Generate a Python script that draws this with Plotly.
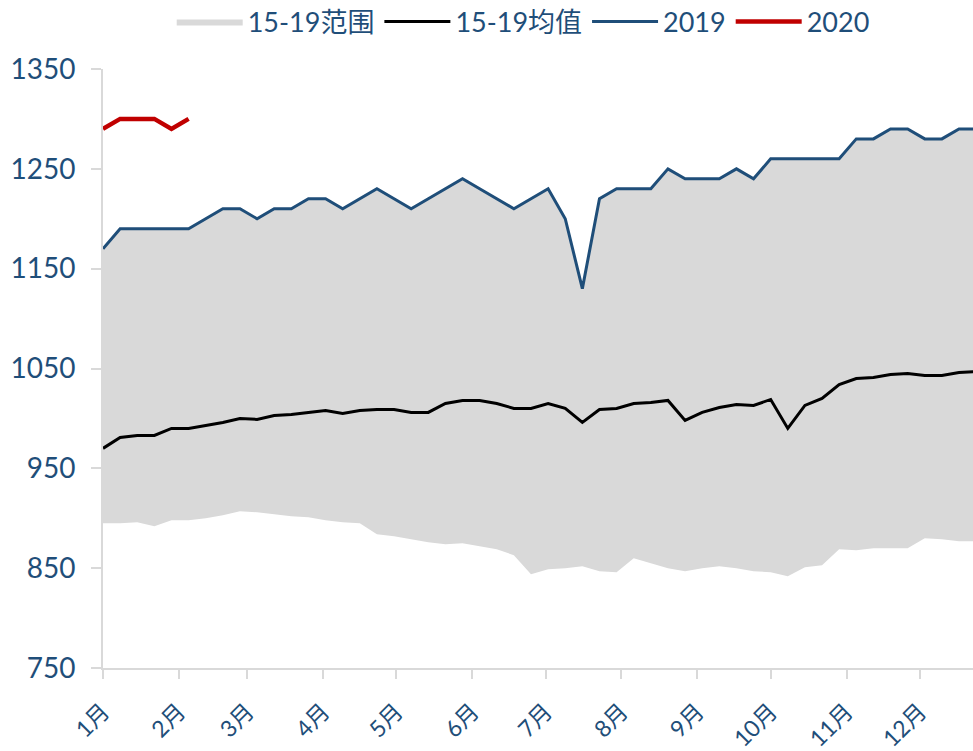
import plotly.graph_objects as go

# Weekly index (52 weeks)
weeks = list(range(52))

# Month tick labels and positions (month start day-of-year / 7)
month_labels = ["1月", "2月", "3月", "4月", "5月", "6月", "7月", "8月", "9月", "10月", "11月", "12月"]
month_start_days = [0, 31, 59, 90, 120, 151, 181, 212, 243, 273, 304, 334]

range_high = [1170, 1190, 1190, 1190, 1190, 1190, 1200, 1210, 1210, 1200, 1210, 1210, 1220, 1220,
              1210, 1220, 1230, 1220, 1210, 1220, 1230, 1240, 1230, 1220, 1210, 1220, 1230, 1200,
              1130, 1220, 1230, 1230, 1230, 1250, 1240, 1240, 1240, 1250, 1240, 1260, 1260, 1260,
              1260, 1260, 1280, 1280, 1290, 1290, 1280, 1280, 1290, 1290]

range_low = [895, 895, 896, 892, 898, 898, 900, 903, 907, 906, 904, 902, 901, 898,
             896, 895, 884, 882, 879, 876, 874, 875, 872, 869, 863, 844, 849, 850,
             852, 847, 846, 860, 855, 850, 847, 850, 852, 850, 847, 846, 842, 851,
             853, 869, 868, 870, 870, 870, 880, 879, 877, 877]

mean_15_19 = [970, 981, 983, 983, 990, 990, 993, 996, 1000, 999, 1003, 1004, 1006, 1008,
              1005, 1008, 1009, 1009, 1006, 1006, 1015, 1018, 1018, 1015, 1010, 1010, 1015, 1010,
              996, 1009, 1010, 1015, 1016, 1018, 998, 1006, 1011, 1014, 1013, 1019, 990, 1013,
              1020, 1034, 1040, 1041, 1044, 1045, 1043, 1043, 1046, 1047]

y2019 = range_high

y2020 = [1290, 1300, 1300, 1300, 1290, 1300]

y_ticks = [750, 850, 950, 1050, 1150, 1250, 1350]

BLUE = "#1F4E79"
RED = "#C00000"
GRAY = "#D9D9D9"
FONT = "Lato, 'Noto Sans CJK SC', sans-serif"

tick_pos = [d / 7 for d in month_start_days]

fig = go.Figure()
fig.add_trace(go.Scatter(x=weeks, y=range_low, mode="lines", line=dict(width=0, color=GRAY),
                         showlegend=False, hoverinfo="skip"))
fig.add_trace(go.Scatter(x=weeks, y=range_high, mode="lines", line=dict(width=0, color=GRAY),
                         fill="tonexty", fillcolor=GRAY, name="15-19范围"))
fig.add_trace(go.Scatter(x=weeks, y=mean_15_19, mode="lines", line=dict(width=3, color="black"),
                         name="15-19均值"))
fig.add_trace(go.Scatter(x=weeks, y=y2019, mode="lines", line=dict(width=3, color=BLUE),
                         name="2019"))
fig.add_trace(go.Scatter(x=weeks[:len(y2020)], y=y2020, mode="lines",
                         line=dict(width=4.5, color=RED), name="2020"))

fig.update_layout(
    width=973, height=751,
    margin=dict(l=103, r=0, t=69, b=83, autoexpand=False),
    paper_bgcolor="white", plot_bgcolor="white",
    font=dict(family=FONT, size=26, color=BLUE),
    legend=dict(orientation="h", x=0.483, xanchor="center", y=1.0785, yanchor="middle",
                font=dict(size=27, color=BLUE), bgcolor="rgba(0,0,0,0)", itemwidth=66,
                traceorder="normal"),
    showlegend=True,
)
fig.update_xaxes(
    range=[0, 870 / 17.12], tickvals=tick_pos, ticktext=month_labels, tickangle=-45,
    showgrid=False, zeroline=False, showline=True, linecolor=GRAY, linewidth=2,
    ticks="outside", ticklen=9, tickcolor=GRAY, tickwidth=2, automargin=False,
    tickfont=dict(size=23, color=BLUE), ticklabelstandoff=10,
)
fig.update_yaxes(
    range=[750, 1350], tickvals=y_ticks, showgrid=False, zeroline=False,
    showline=True, linecolor=GRAY, linewidth=2, automargin=False,
    ticks="outside", ticklen=10, tickcolor=GRAY, tickwidth=2,
    tickfont=dict(size=28, color=BLUE), ticklabelstandoff=10,
)

fig.write_html(
    "out.html",
    config={"displayModeBar": False},
    post_script="document.body.style.margin='0';document.body.style.overflow='hidden';",
)
